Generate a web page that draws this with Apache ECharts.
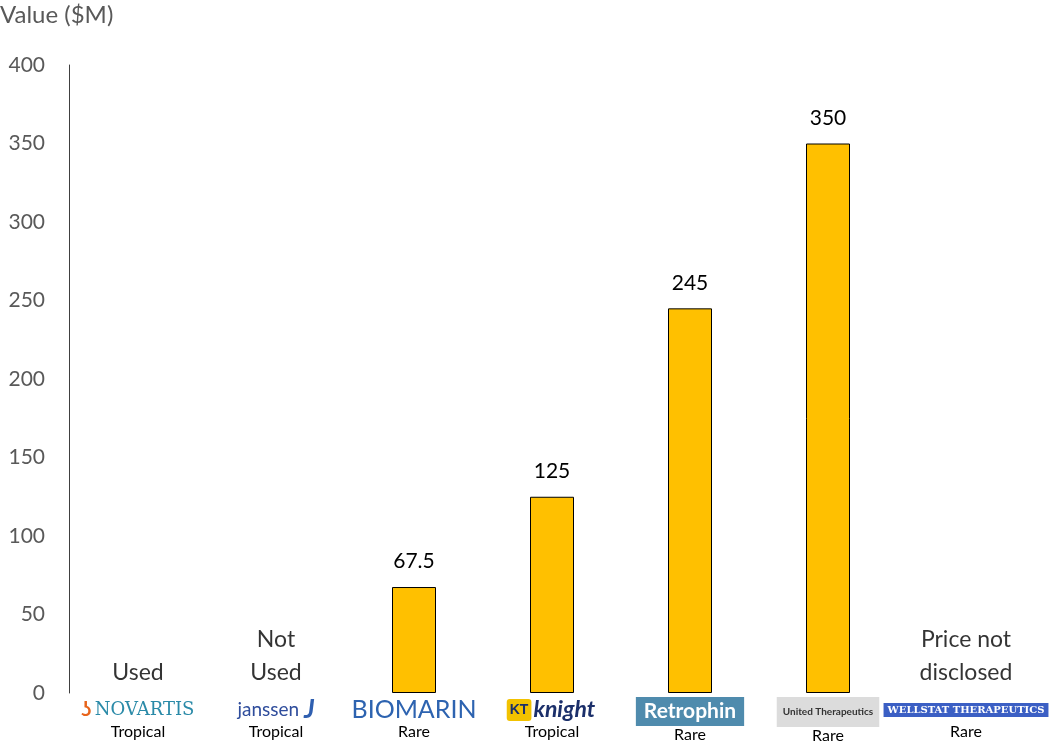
<!DOCTYPE html>
<html>
<head>
<meta charset="utf-8">
<title>Value ($M)</title>
<script src="https://cdn.jsdelivr.net/npm/echarts@6/dist/echarts.min.js"></script>
<style>
  html, body { margin: 0; padding: 0; background: #fff; }
  #main { width: 1050px; height: 744px; }
</style>
</head>
<body>
<div id="main"></div>
<script type="text/javascript">
    // data
    var companies = ['NOVARTIS', 'janssen', 'BIOMARIN', 'knight', 'Retrophin', 'United Therapeutics', 'WELLSTAT THERAPEUTICS'];
    var areas = ['Tropical', 'Tropical', 'Rare', 'Tropical', 'Rare', 'Rare', 'Rare'];
    var values = [null, null, 67.5, 125, 245, 350, null];
    var notes = ['Used', 'Not\nUsed', '', '', '', '', 'Price not\ndisclosed'];
    var noteBase = [0, 0, null, null, null, null, 0];
    var yTicks = [0, 50, 100, 150, 200, 250, 300, 350, 400];

    var font = 'Lato, "Open Sans", sans-serif';
    var logoStyles = ['nov', 'jan', 'bio', 'kni', 'ret', 'uni', 'wel'];

    var myChart = echarts.init(document.getElementById('main'));

    var option = {
        animation: false,
        grid: { left: 69, right: 15, top: 65, bottom: 51, containLabel: false, outerBoundsMode: 'none' },
        xAxis: {
            type: 'category',
            data: companies,
            axisLine: { show: false },
            axisTick: { show: false },
            axisLabel: {
                interval: 0,
                margin: 4,
                hideOverlap: false,
                formatter: function (val, i) {
                    var pre = '';
                    if (i === 0) pre = '{flame|\u0296} ';
                    if (i === 1) val = val + ' ';
                    if (i === 3) pre = '{kt|KT}';
                    var post = i === 1 ? '{jj|J}' : '';
                    return '{sp|}' + pre + '{' + logoStyles[i] + '|' + val + '}' + post + '\n{sub|' + areas[i] + '}';
                },
                rich: {
                    sp: { height: 26, width: 0 },
                    flame: { color: '#e8641b', fontSize: 20, fontWeight: 'bold', fontFamily: font },
                    nov: { color: '#2a8aa8', fontSize: 18, fontFamily: '"DejaVu Serif", serif' },
                    jan: { color: '#2f4d9c', fontSize: 19, fontFamily: font },
                    jj: { color: '#2f5fb0', fontSize: 26, fontWeight: 'bold', fontStyle: 'italic', fontFamily: font },
                    bio: { color: '#2d63b0', fontSize: 25, fontFamily: font },
                    kt: { color: '#1b2f6a', backgroundColor: '#f2c200', fontSize: 14, fontWeight: 'bold', padding: [4, 3], borderRadius: 3 },
                    kni: { color: '#1b2f6a', fontSize: 23, fontWeight: 'bold', fontStyle: 'italic', fontFamily: font, padding: [0, 2] },
                    ret: { color: '#ffffff', backgroundColor: '#4f8bad', fontSize: 21, fontWeight: 'bold', fontFamily: font, padding: [4, 8] },
                    uni: { color: '#333333', backgroundColor: '#dcdcdc', fontSize: 10, fontWeight: 'bold', fontFamily: font, padding: [10, 6] },
                    wel: { color: '#ffffff', backgroundColor: '#3b5fc4', fontSize: 10, fontWeight: 'bold', fontFamily: '"DejaVu Serif", serif', padding: [2, 4] },
                    sub: { color: '#000000', fontSize: 16, fontFamily: font, height: 18 }
                }
            }
        },
        yAxis: {
            type: 'value',
            min: 0,
            max: 400,
            interval: 50,
            name: 'Value ($M)',
            nameLocation: 'end',
            nameGap: 38,
            nameTextStyle: { color: '#595959', fontSize: 24, fontFamily: font, align: 'left', padding: [0, 0, 0, -69] },
            axisLine: { show: true, lineStyle: { color: '#404040', width: 1 } },
            axisTick: { show: false },
            splitLine: { show: false },
            axisLabel: {
                color: '#595959',
                fontSize: 21,
                fontFamily: font,
                margin: 24,
                formatter: function (v) { return yTicks.indexOf(v) >= 0 ? String(v) : ''; }
            }
        },
        series: [
            {
                name: 'Value',
                type: 'bar',
                data: values,
                barWidth: 44,
                itemStyle: { color: '#ffc000', borderColor: '#000000', borderWidth: 1 },
                label: {
                    show: true,
                    position: 'top',
                    distance: 15,
                    color: '#000000',
                    fontSize: 21,
                    fontFamily: font
                }
            },
            {
                name: 'Note',
                type: 'scatter',
                data: noteBase,
                symbolSize: 0,
                silent: true,
                label: {
                    show: true,
                    position: 'top',
                    distance: 4,
                    color: '#000000',
                    fontSize: 23,
                    lineHeight: 33,
                    fontFamily: font,
                    formatter: function (p) { return notes[p.dataIndex]; }
                }
            }
        ]
    };

    myChart.setOption(option);
</script>
</body>
</html>
